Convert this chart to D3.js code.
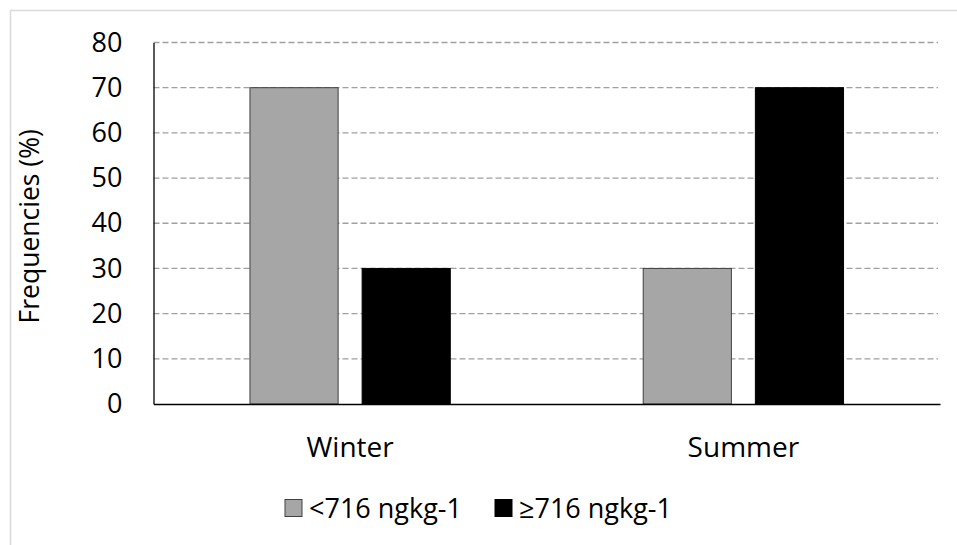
<!DOCTYPE html>
<html><head><meta charset="utf-8">
<script src="https://cdn.jsdelivr.net/npm/d3@7"></script>
<style>body{margin:0;background:#fff}svg{display:block}</style>
</head><body>
<svg id="c" width="957" height="545"></svg>
<script>
const categories = ["Winter", "Summer"];
const seriesNames = ["<716 ngkg-1", "\u2265716 ngkg-1"];
const seriesLow = [70, 30];
const seriesHigh = [30, 70];
const yTicks = [0, 10, 20, 30, 40, 50, 60, 70, 80];
const colors = ["#a6a6a6", "#000000"];
const strokes = ["#404040", "#000000"];

const font = "'Open Sans', 'Noto Sans', sans-serif";
const svg = d3.select("#c");
svg.append("rect").attr("x", 10.5).attr("y", 10.5).attr("width", 1000).attr("height", 600)
  .attr("fill", "none").attr("stroke", "#d9d9d9").attr("stroke-width", 1.5);

const L = 153.5, R = 940, T = 42.5, B = 404;
const x = d3.scaleBand().domain(categories).range([L, R]).paddingInner(0).paddingOuter(0);
const xs = d3.scaleBand().domain([0, 1]).range([0, x.bandwidth()]).paddingInner(0.214).paddingOuter(0.86);
const y = d3.scaleLinear().domain([0, 80]).range([B, T]);

// grid
svg.append("g").selectAll("line").data(yTicks.filter(d => d > 0)).join("line")
  .attr("x1", L).attr("x2", R - 2).attr("y1", d => y(d)).attr("y2", d => y(d))
  .attr("stroke", "#a0a0a0").attr("stroke-width", 1.3).attr("stroke-dasharray", "6,3");

// bars
const data = [];
categories.forEach((c, i) => {
  data.push({c, s: 0, v: seriesLow[i]});
  data.push({c, s: 1, v: seriesHigh[i]});
});
svg.append("g").selectAll("rect").data(data).join("rect")
  .attr("x", d => x(d.c) + xs(d.s)).attr("width", xs.bandwidth())
  .attr("y", d => y(d.v)).attr("height", d => B - y(d.v))
  .attr("fill", d => colors[d.s]).attr("stroke", d => strokes[d.s]).attr("stroke-width", 1);

// axes
const ya = d3.axisLeft(y).tickValues(yTicks).tickSize(0).tickPadding(31);
const gy = svg.append("g").attr("transform", `translate(${L},0)`).call(ya);
gy.select(".domain").attr("stroke", "#000").attr("stroke-width", 1.3);
gy.selectAll("text").attr("font-family", font).attr("font-size", 27).attr("fill", "#000");

const xa = d3.axisBottom(x).tickSize(0).tickPadding(33);
const gx = svg.append("g").attr("transform", `translate(0,${B})`).call(xa);
gx.select(".domain").attr("stroke", "#000").attr("stroke-width", 1.5);
gx.selectAll("text").attr("font-family", font).attr("font-size", 28).attr("fill", "#000");

// y title
svg.append("text").attr("transform", `translate(39,${(T + B) / 2 + 3}) rotate(-90)`)
  .attr("text-anchor", "middle").attr("font-family", font).attr("font-size", 26.5)
  .text("Frequencies (%)");

// legend
const leg = svg.append("g");
const legX = [285, 495];
seriesNames.forEach((n, i) => {
  leg.append("rect").attr("x", legX[i]).attr("y", 499.5).attr("width", 17).attr("height", 17)
    .attr("fill", colors[i]).attr("stroke", strokes[i]).attr("stroke-width", 1);
  leg.append("text").attr("x", legX[i] + 24).attr("y", 518).attr("font-family", font)
    .attr("font-size", 27).text(n);
});
</script>
</body></html>
